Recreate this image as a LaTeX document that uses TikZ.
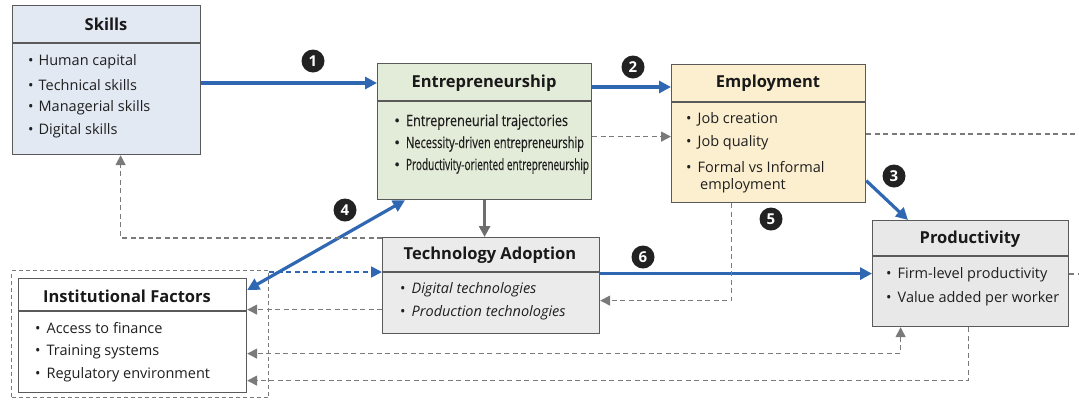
\documentclass[tikz,border=0pt]{standalone}
\usepackage{graphicx}
\usepackage{fontspec}
\setmainfont{Open Sans}
\usetikzlibrary{arrows.meta,calc}

\definecolor{skillfill}{HTML}{E2E9F3}
\definecolor{entrefill}{HTML}{E3ECD9}
\definecolor{empfill}{HTML}{FCEFD0}
\definecolor{prodfill}{HTML}{E8E8E8}
\definecolor{techfill}{HTML}{EBEBEB}
\definecolor{edgegray}{HTML}{5A5A5A}
\definecolor{flowblue}{HTML}{2F67B2}
\definecolor{dashgray}{HTML}{7A7A7A}
\definecolor{numdark}{HTML}{222222}
\definecolor{downgray}{HTML}{6E6E6E}

\newcommand\ttlfont{\fontsize{16.5}{18}\selectfont\bfseries}
\newcommand\itemfont{\fontsize{14.5}{16}\selectfont}
\newcommand\denseitem{\fontsize{15.5}{17}\selectfont\addfontfeatures{FakeBold=0.4}}
\newcommand\squeeze[2]{\resizebox{#1}{\height}{#2}}

\begin{document}
\begin{tikzpicture}[x=1pt,y=-1pt,
  box/.style={draw=edgegray, line width=1.2pt, rectangle, anchor=north west, inner sep=0pt},
  ttl/.style={font=\ttlfont, inner sep=0pt, text=black!90},
  item/.style={anchor=west, inner sep=0pt, font=\itemfont, text=black!88},
  num/.style={circle, fill=numdark, text=white, font=\fontsize{15}{15}\selectfont\bfseries, minimum size=23pt, inner sep=0pt},
  flow/.style={draw=flowblue, line width=3.2pt, -{Triangle[length=12pt,width=12pt]}},
  flowboth/.style={draw=flowblue, line width=3.2pt, {Triangle[length=12pt,width=12pt]}-{Triangle[length=12pt,width=12pt]}},
  fb/.style={draw=dashgray, line width=1.5pt, dash pattern=on 5pt off 3.5pt, -{Triangle[length=10pt,width=10pt]}},
  fbboth/.style={draw=dashgray, line width=1.5pt, dash pattern=on 5pt off 3.5pt, {Triangle[length=10pt,width=10pt]}-{Triangle[length=10pt,width=10pt]}},
  fbline/.style={draw=dashgray, line width=1.5pt, dash pattern=on 5pt off 3.5pt},
  fbblue/.style={draw=flowblue, line width=1.8pt, dash pattern=on 5pt off 3.5pt, -{Triangle[length=11pt,width=11pt]}},
  divider/.style={draw=edgegray, line width=1.2pt}
]
\useasboundingbox (0,0) rectangle (1079,400);

% ---------- boxes ----------
\node[box, fill=skillfill, minimum width=188pt, minimum height=149pt] (skills) at (12,5) {};
\draw[divider] ([yshift=-38pt]skills.north west) -- ([yshift=-38pt]skills.north east);
\node[ttl] (skillsT) at (106,24) {Skills};
\node[item] (sk1) at (28,62) {•\hspace{5pt}Human capital};
\node[item] (sk2) at (28,85) {•\hspace{5pt}Technical skills};
\node[item] (sk3) at (28,108) {•\hspace{5pt}Managerial skills};
\node[item] (sk4) at (28,131) {•\hspace{5pt}Digital skills};

\node[box, fill=entrefill, minimum width=214pt, minimum height=136pt] (entre) at (377,63) {};
\draw[divider] ([yshift=-38pt]entre.north west) -- ([yshift=-38pt]entre.north east);
\node[ttl] (entreT) at (484,83) {Entrepreneurship};
\node[item, font=\denseitem] (en1) at (394,122) {•\hspace{6pt}\squeeze{162pt}{Entrepreneurial trajectories}};
\node[item, font=\denseitem] (en2) at (394,144) {•\hspace{6pt}\squeeze{178pt}{Necessity-driven entrepreneurship}};
\node[item, font=\denseitem] (en3) at (394,166) {•\hspace{6pt}\squeeze{183pt}{Productivity-oriented entrepreneurship}};

\node[box, fill=empfill, minimum width=194pt, minimum height=138pt] (emp) at (671,64) {};
\draw[divider] ([yshift=-38pt]emp.north west) -- ([yshift=-38pt]emp.north east);
\node[ttl] (empT) at (768,83) {Employment};
\node[item] (em1) at (686,119) {•\hspace{6pt}Job creation};
\node[item] (em2) at (686,143) {•\hspace{6pt}Job quality};
\node[item] (em3) at (686,167) {•\hspace{6pt}Formal vs Informal};
\node[item] (em4) at (700,186) {employment};

\node[box, fill=prodfill, minimum width=196pt, minimum height=106pt] (prod) at (872,220) {};
\draw[divider] ([yshift=-36pt]prod.north west) -- ([yshift=-36pt]prod.north east);
\node[ttl] (prodT) at (970,239) {Productivity};
\node[item] (pr1) at (886,275) {•\hspace{6pt}Firm-level productivity};
\node[item] (pr2) at (886,299) {•\hspace{6pt}Value added per worker};

\node[box, fill=techfill, minimum width=217pt, minimum height=96pt] (tech) at (382,237) {};
\draw[divider] ([yshift=-35pt]tech.north west) -- ([yshift=-35pt]tech.north east);
\node[ttl] (techT) at (490,255) {Technology Adoption};
\node[item] (te1) at (400,290) {•\hspace{6pt}\textit{Digital technologies}};
\node[item] (te2) at (400,313) {•\hspace{6pt}\textit{Production technologies}};

\node[box, draw=dashgray, dash pattern=on 4pt off 3pt, minimum width=257pt, minimum height=127pt] (instframe) at (11,270) {};
\node[box, fill=white, minimum width=228pt, minimum height=114pt] (inst) at (18,278) {};
\draw[divider] ([yshift=-33pt]inst.north west) -- ([yshift=-33pt]inst.north east);
\node[ttl] (instT) at (127,296) {Institutional Factors};
\node[item] (in1) at (35,328) {•\hspace{6pt}Access to finance};
\node[item] (in2) at (35,352) {•\hspace{6pt}Training systems};
\node[item] (in3) at (35,375) {•\hspace{6pt}Regulatory environment};

% ---------- free ends at the right margin ----------
\coordinate (rimA) at (1079,134);
\coordinate (rimB) at (1079,274);

% ---------- main causal chain ----------
\draw[flow] (skills.east |- entreT) -- (entre.west |- entreT);
\draw[flow] ([yshift=-4pt]entre.east |- empT) -- ([yshift=-4pt]emp.west |- empT);
\draw[flow] ([yshift=-47pt]emp.east) -- ([xshift=36pt]prod.north west);
\draw[flowboth] ([xshift=28pt]entre.south west) -- ([yshift=-12pt]inst.north east);
\draw[flow] (tech.east |- prod.west) -- (prod.west);
\draw[draw=downgray, line width=2.6pt, -{Triangle[length=11pt,width=11pt]}] (entre.south) -- (entre.south |- tech.north);

% ---------- feedback links ----------
\draw[fb] ([yshift=-5pt]entre.east) -- ([yshift=-5pt]entre.east -| emp.west);
\draw[fbline] (emp.east |- rimA) -- (rimA);
\draw[fb] ([yshift=-1pt]tech.north west) -| ([xshift=14pt]skills.south);
\draw[fbblue] ([yshift=-2pt]instframe.north east) -- ([yshift=-2pt]instframe.north east -| tech.west);
\draw[fb] ([yshift=-24pt]tech.west) -- ([yshift=-24pt]tech.west -| inst.east);
\draw[fb] ([xshift=-37pt]emp.south) |- ([yshift=-15pt]tech.east);
\draw[fbline] (prod.east |- rimB) -- (rimB);
\draw[fbboth] ([xshift=-70pt]prod.south) |- ([yshift=-18pt]inst.east);
\draw[fb] ([xshift=-2pt]prod.south) |- ([yshift=-45pt]inst.east);

% ---------- step numbers ----------
\node[num] (n1) at (313,61) {1};
\node[num] (n2) at (633,67) {2};
\node[num] (n3) at (894,176) {3};
\node[num] (n4) at (345,210) {4};
\node[num] (n5) at (771,219) {5};
\node[num] (n6) at (643,257) {6};
\end{tikzpicture}
\end{document}
